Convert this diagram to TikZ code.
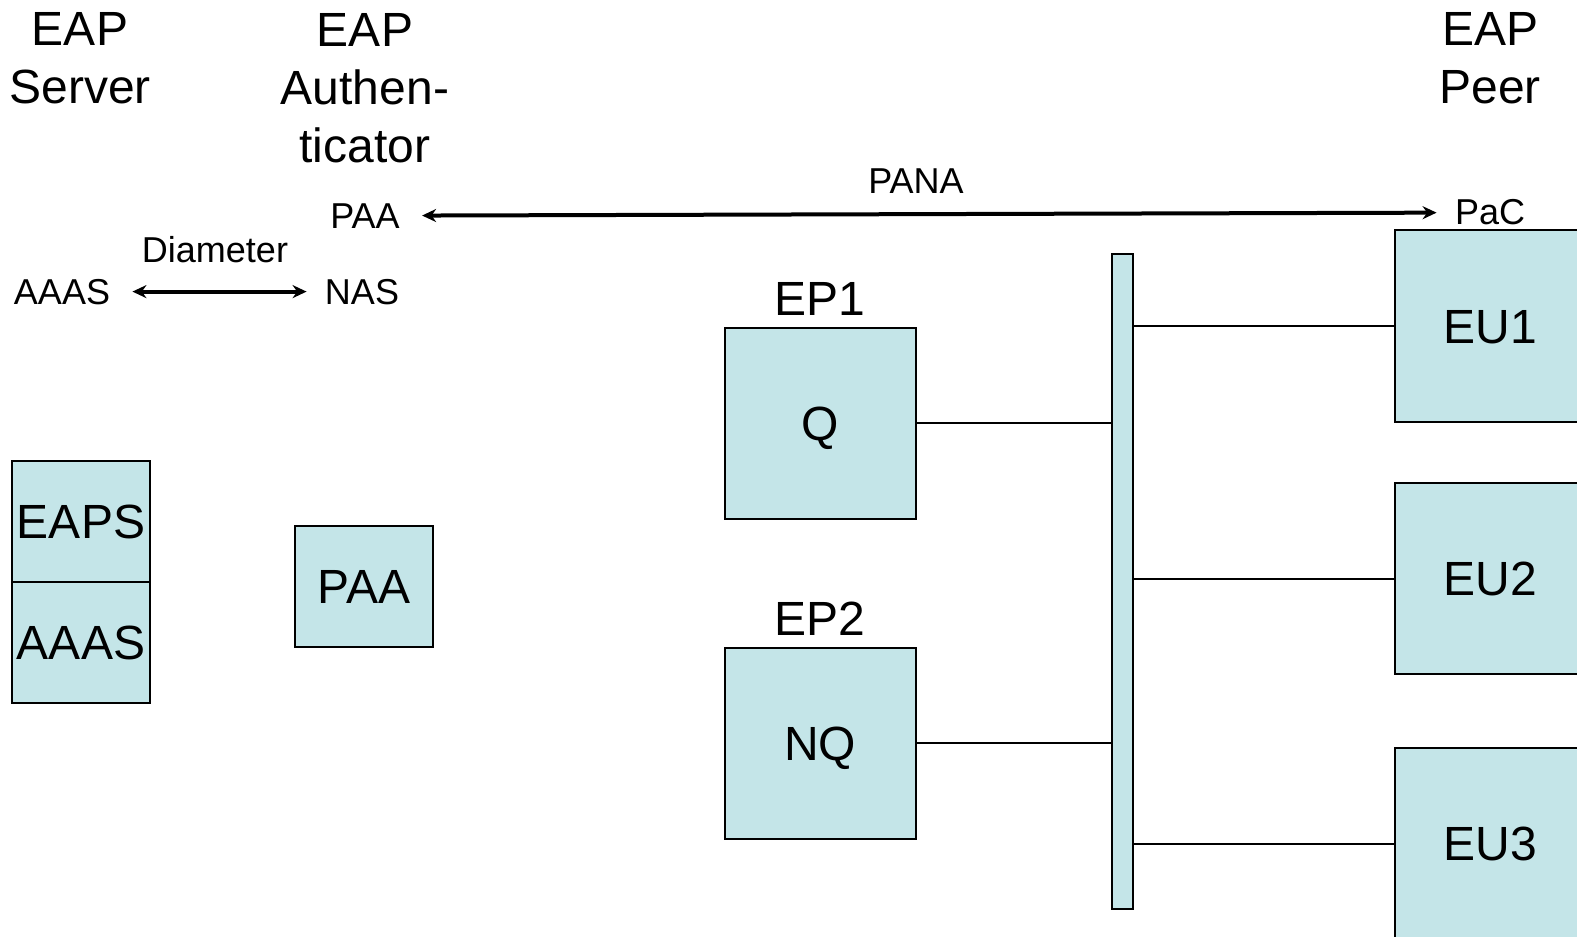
\documentclass[tikz,border=0pt]{standalone}
\usepackage{fontspec}
\setmainfont{Liberation Sans}
\usetikzlibrary{arrows.meta}
\definecolor{boxfill}{RGB}{196,229,232}
\begin{document}
\begin{tikzpicture}[x=0.5pt,y=-0.5pt,>={Stealth[length=7pt,width=6.5pt]},
    box/.style={draw,line width=1pt,fill=boxfill,inner sep=0pt,text height=17.2pt,text depth=0pt,font=\fontsize{24}{29}\selectfont},
    head/.style={align=center,anchor=base,inner sep=0pt,font=\fontsize{24}{29}\selectfont},
    small/.style={anchor=base,inner sep=0pt,font=\fontsize{18}{22}\selectfont},
    link/.style={line width=1pt},
    proto/.style={<->,line width=2pt,shorten <=11pt,shorten >=9pt}]
        \useasboundingbox (0,0) rectangle (1577,936);
        \clip (0,0) rectangle (1577,936);
        % headings (base = last line)
        \node[head] (hsrv) at (80,104) {EAP\\Server};
        \node[head] (hauth) at (365,163) {EAP\\Authen-\\ticator};
        \node[head] (hpeer) at (1490,104) {EAP\\Peer};
        % protocol labels
        \node[small] (pana) at (916,193) {PANA};
        \node[small] (paa) at (365,228) {PAA};
        \node[small] (pac) at (1490,225) {PaC};
        \node[small] (diam) at (215,263) {Diameter};
        \node[small] (aaas) at (62,304) {AAAS};
        \node[small] (nas) at (362,304) {NAS};
        \draw[proto] (paa.east) -- (pac.west);
        \draw[proto] (aaas.east) -- (nas.west);
        % left boxes
        \node[box,minimum width=69pt,minimum height=60.5pt] (eaps) at (81,521.5) {EAPS};
        \node[box,minimum width=69pt,minimum height=60.5pt] (aaasbox) at (81,642) {AAAS};
        \node[box,minimum width=69pt,minimum height=60.5pt] (paabox) at (364,586.5) {PAA};
        % enforcement points
        \node[box,minimum width=95.5pt,minimum height=95.5pt] (q) at (820,423) {Q};
        \node[box,minimum width=95.5pt,minimum height=95.5pt] (nq) at (820,743) {NQ};
        \node[head] (ep1) at (820,315) {EP1};
        \node[head] (ep2) at (820,635) {EP2};
        % bus and end users
        \node[box,minimum width=10.5pt,minimum height=327.5pt] (bus) at (1122.5,581.5) {};
        \node[box,minimum width=95.5pt,minimum height=96pt] (eu1) at (1490.5,326) {EU1};
        \node[box,minimum width=95.5pt,minimum height=95.5pt] (eu2) at (1490.5,578.5) {EU2};
        \node[box,minimum width=95.5pt,minimum height=95.5pt] (eu3) at (1490.5,843.5) {EU3};
        \draw[link] (q.east) -- (q.east -| bus.west);
        \draw[link] (nq.east) -- (nq.east -| bus.west);
        \draw[link] (eu1.west -| bus.east) -- (eu1.west);
        \draw[link] (eu2.west -| bus.east) -- (eu2.west);
        \draw[link] (eu3.west -| bus.east) -- (eu3.west);
\end{tikzpicture}
\end{document}
